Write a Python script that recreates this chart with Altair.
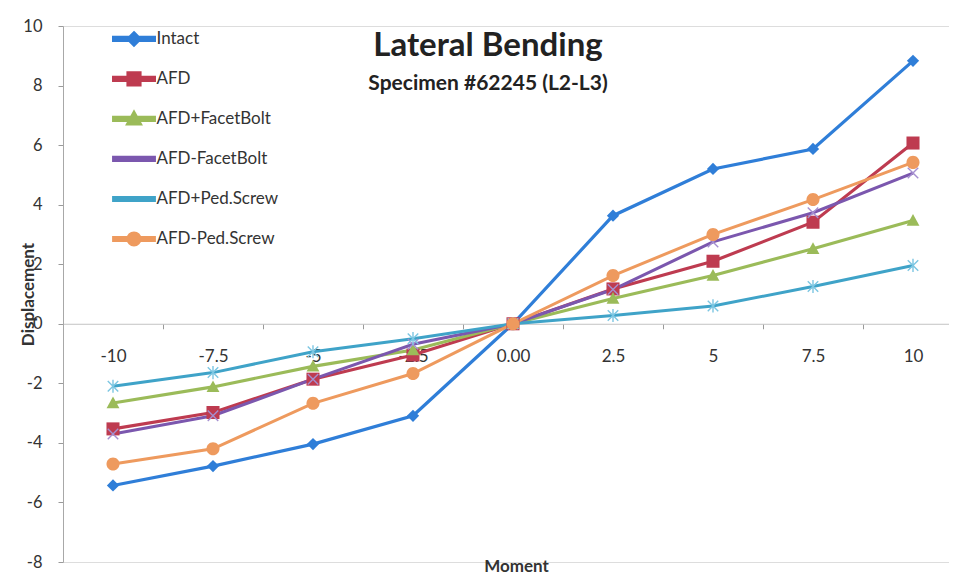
import altair as alt
import pandas as pd

# ---------------- data ----------------
moments = [-10, -7.5, -5, -2.5, 0, 2.5, 5, 7.5, 10]
series_names = ["Intact", "AFD", "AFD+FacetBolt", "AFD-FacetBolt", "AFD+Ped.Screw", "AFD-Ped.Screw"]
intact = [-5.43, -4.78, -4.04, -3.09, 0, 3.63, 5.20, 5.87, 8.83]
afd = [-3.53, -2.98, -1.86, -1.05, 0, 1.17, 2.10, 3.41, 6.07]
afd_facet_plus = [-2.66, -2.12, -1.43, -0.88, 0, 0.85, 1.62, 2.52, 3.47]
afd_facet_minus = [-3.70, -3.09, -1.86, -0.69, 0, 1.15, 2.75, 3.73, 5.06]
afd_ped_plus = [-2.10, -1.64, -0.94, -0.50, 0, 0.28, 0.60, 1.25, 1.96]
afd_ped_minus = [-4.71, -4.20, -2.67, -1.67, 0, 1.62, 3.00, 4.17, 5.42]
y_ticks = [-8, -6, -4, -2, 0, 2, 4, 6, 8, 10]

series_values = [intact, afd, afd_facet_plus, afd_facet_minus, afd_ped_plus, afd_ped_minus]

# ---------------- styles ----------------
colors = ["#2F7ED8", "#BE3B50", "#9BBB59", "#7B57AE", "#3FA3C8", "#EE9A5E"]
line_widths = [3.2, 3.0, 2.5, 3.0, 3.0, 2.2]

DIAMOND = "M0,-1L1,0L0,1L-1,0Z"
SQUARE = "M-1,-1L1,-1L1,1L-1,1Z"
TRIANGLE = "M0,-1.05L1.05,0.85L-1.05,0.85Z"
CIRCLE = "M1,0A1,1 0 1,1 -1,0A1,1 0 1,1 1,0Z"
XMARK = "M-1,-1L1,1M-1,1L1,-1"
ASTER = "M-1,-1L1,1M-1,1L1,-1M0,-1.25L0,1.25"

# (shape, filled, size, colour of marker)
marker_specs = [
    (DIAMOND, True, 150, "#2F7ED8"),
    (SQUARE, True, 170, "#BE3B50"),
    (TRIANGLE, True, 150, "#9BBB59"),
    (XMARK, False, 110, "#A58FD0"),
    (ASTER, False, 110, "#7CC6E2"),
    (CIRCLE, True, 170, "#EE9A5E"),
]

# legend glyphs: a short line with the marker on it; identical invisible extents
EXTENT = "M-3.4,-1.3M3.4,1.3"
BAR = "M-3.4,-0.25L3.4,-0.25L3.4,0.25L-3.4,0.25Z"
legend_paths = [
    EXTENT + BAR + DIAMOND,
    EXTENT + BAR + SQUARE,
    EXTENT + BAR + TRIANGLE,
    EXTENT + BAR,
    EXTENT + BAR,
    EXTENT + BAR + CIRCLE,
]

rows = []
for name, vals in zip(series_names, series_values):
    for m, v in zip(moments, vals):
        rows.append({"series": name, "moment": m, "disp": v})
df = pd.DataFrame(rows)

W, H = 886, 536
FONT = "Lato"
TXT = "#333333"

boundaries = [(a + b) / 2 for a, b in zip(moments[:-1], moments[1:])]
x_values = sorted(moments + boundaries)

x_axis = alt.Axis(
    values=x_values,
    labelExpr="datum.value == 0 ? '0.00' : (abs(datum.value % 2.5) < 0.001 ? toString(datum.value) : '')",
    tickOpacity={"condition": {"test": "abs(datum.value % 2.5) < 0.001", "value": 0}, "value": 1},
    offset=-H * 8 / 18,
    tickSize=5,
    tickColor="#9a9a9a",
    domainColor="#c4c4c4",
    labelPadding=20,
    labelFont=FONT,
    labelFontSize=17,
    labelColor=TXT,
    labelFlush=False,
    labelOverlap=False,
    grid=False,
    title="Moment",
    titleFont=FONT,
    titleFontSize=17,
    titleFontWeight="bold",
    titleColor=TXT,
    titleX=453,
    titleY=243,
    titleBaseline="middle",
    titleAlign="center",
)

y_axis = alt.Axis(
    values=y_ticks,
    labelExpr="toString(datum.value)",
    tickSize=5,
    tickColor="#9a9a9a",
    domainColor="#a8a8a8",
    labelPadding=16,
    labelFont=FONT,
    labelFontSize=16.5,
    labelColor=TXT,
    grid=False,
    title="Displacement",
    titleFont=FONT,
    titleFontSize=17,
    titleFontWeight="bold",
    titleColor=TXT,
    titleX=-35,
    titleY=H / 2,
    titleAngle=270,
    titleAlign="center",
    titleBaseline="middle",
)

x_scale = alt.Scale(domain=[-11.25, 10.9], nice=False, zero=False)
y_scale = alt.Scale(domain=[-8, 10], nice=False, zero=False)
color_scale = alt.Scale(domain=series_names, range=colors)

x_enc = alt.X("moment:Q", scale=x_scale, axis=x_axis)
y_enc = alt.Y("disp:Q", scale=y_scale, axis=y_axis)

legend_spec = alt.Legend(
    title=None,
    orient="none",
    legendX=76.5,
    legendY=4.4,
    padding=0,
    symbolSize=144,
    symbolStrokeWidth=0,
    symbolOffset=-14,
    labelOffset=14,
    labelFont=FONT,
    labelFontSize=17,
    labelColor=TXT,
    rowPadding=11,
    labelLimit=300,
)

# legend-only layer (no marks drawn): goes first so its legend settings win
legend_layer = (
    alt.Chart(df)
    .transform_filter("false")
    .mark_point(filled=True, opacity=1, size=144)
    .encode(
        x=x_enc,
        y=y_enc,
        color=alt.Color("series:N", scale=color_scale, legend=legend_spec),
        shape=alt.Shape(
            "series:N", scale=alt.Scale(domain=series_names, range=legend_paths), legend=legend_spec
        ),
    )
)

lines = alt.Chart(df).mark_line().encode(
    x=x_enc,
    y=y_enc,
    color=alt.Color("series:N", scale=color_scale, legend=legend_spec),
    strokeWidth=alt.StrokeWidth(
        "series:N", scale=alt.Scale(domain=series_names, range=line_widths), legend=None
    ),
)

layers = [legend_layer, lines]
for name, (shape, filled, size, col) in zip(series_names, marker_specs):
    if filled:
        mk = alt.Chart(df).mark_point(shape=shape, filled=True, size=size, opacity=1, color=col)
    else:
        mk = alt.Chart(df).mark_point(
            shape=shape, filled=False, size=size, opacity=1, color=col, strokeWidth=1.4
        )
    layers.append(mk.transform_filter(alt.datum.series == name).encode(x=x_enc, y=y_enc))

chart = (
    alt.layer(*layers)
    .properties(
        width=W,
        height=H,
        padding={"left": 55, "top": 18, "right": 0, "bottom": 16},
        autosize=alt.AutoSizeParams(type="none"),
        title=alt.TitleParams(
            "Lateral Bending",
            subtitle="Specimen #62245 (L2-L3)",
            font=FONT,
            fontSize=33,
            fontWeight="bold",
            color="#222222",
            subtitleFont=FONT,
            subtitleFontSize=21,
            subtitleFontWeight="bold",
            subtitleColor="#222222",
            subtitlePadding=10,
            anchor="middle",
            frame="group",
            dx=-18,
            offset=-76,
        ),
    )
    .configure_view(stroke=None)
    .configure(background="white")
)

chart.save("out.html", embed_options={"renderer": "svg", "actions": False})
